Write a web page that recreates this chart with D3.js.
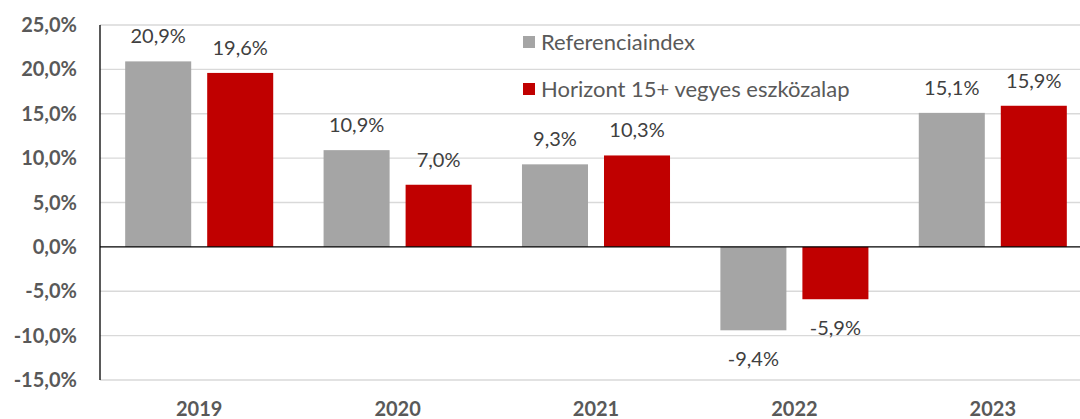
<!DOCTYPE html>
<html>
<head>
<meta charset="utf-8">
<script src="https://cdn.jsdelivr.net/npm/d3@7"></script>
<style>
  body { margin: 0; background: #fff; }
  svg { font-family: Lato, "Open Sans", sans-serif; }
</style>
</head>
<body>
<svg id="chart" width="1080" height="419"></svg>
<script>
// data
var years = ["2019", "2020", "2021", "2022", "2023"];
var seriesNames = ["Referenciaindex", "Horizont 15+ vegyes eszközalap"];
var refValues = [20.9, 10.9, 9.3, -9.4, 15.1];
var fundValues = [19.6, 7.0, 10.3, -5.9, 15.9];
var yTicks = [25, 20, 15, 10, 5, 0, -5, -10, -15];
var colors = ["#a5a5a5", "#c00000"];

var svg = d3.select("#chart");
// plot area runs a bit past the right edge of the picture (cropped)
var mLeft = 100, mRight = 1092, mTop = 25, mBottom = 380;

var fmt = function(v) { return v.toFixed(1).replace(".", ",") + "%"; };

var x = d3.scaleBand().domain(years).range([mLeft, mRight]);
var inner = d3.scaleBand().domain([0, 1]).range([0, x.bandwidth()]).paddingInner(0.195).paddingOuter(0.307);
var y = d3.scaleLinear().domain([-15, 25]).range([mBottom, mTop]);

// gridlines
svg.append("g").selectAll("line")
  .data(yTicks.filter(d => d !== 0))
  .enter().append("line")
  .attr("x1", mLeft).attr("x2", mRight)
  .attr("y1", d => y(d)).attr("y2", d => y(d))
  .attr("stroke", "#d9d9d9").attr("stroke-width", 1.3);

// y tick labels
svg.append("g").selectAll("text")
  .data(yTicks)
  .enter().append("text")
  .attr("x", 77).attr("y", d => y(d))
  .attr("dy", "0.35em")
  .attr("text-anchor", "end")
  .attr("font-size", 20).attr("font-weight", "bold")
  .attr("fill", "#595959")
  .text(fmt);

// bars
var series = [refValues, fundValues];
series.forEach(function(vals, s) {
  var g = svg.append("g");
  g.selectAll("rect")
    .data(vals)
    .enter().append("rect")
    .attr("x", (d, i) => x(years[i]) + inner(s))
    .attr("width", inner.bandwidth())
    .attr("y", d => y(Math.max(0, d)))
    .attr("height", d => Math.abs(y(d) - y(0)))
    .attr("fill", colors[s]);
  g.selectAll("text")
    .data(vals)
    .enter().append("text")
    .attr("x", (d, i) => x(years[i]) + inner(s) + inner.bandwidth() / 2)
    .attr("y", d => d >= 0 ? y(d) - 18 : y(d) + 36)
    .attr("text-anchor", "middle")
    .attr("font-size", 20)
    .attr("fill", "#404040")
    .text(fmt);
});

// axes lines
svg.append("line")
  .attr("x1", mLeft).attr("x2", mRight)
  .attr("y1", y(0)).attr("y2", y(0))
  .attr("stroke", "#000").attr("stroke-width", 1.3);
svg.append("line")
  .attr("x1", mLeft).attr("x2", mLeft)
  .attr("y1", mTop).attr("y2", mBottom)
  .attr("stroke", "#000").attr("stroke-width", 1.3);

// x labels
svg.append("g").selectAll("text")
  .data(years)
  .enter().append("text")
  .attr("x", d => x(d) + x.bandwidth() / 2)
  .attr("y", 416)
  .attr("text-anchor", "middle")
  .attr("font-size", 20).attr("font-weight", "bold")
  .attr("fill", "#595959")
  .text(d => d);

// legend
var legend = svg.append("g").selectAll("g")
  .data(seriesNames)
  .enter().append("g")
  .attr("transform", (d, i) => "translate(523," + (36 + i * 47) + ")");
legend.append("rect")
  .attr("width", 12).attr("height", 12)
  .attr("fill", (d, i) => colors[i]);
legend.append("text")
  .attr("x", 18).attr("y", 6).attr("dy", "0.35em")
  .attr("font-size", 22).attr("fill", "#595959")
  .text(d => d);
</script>
</body>
</html>
